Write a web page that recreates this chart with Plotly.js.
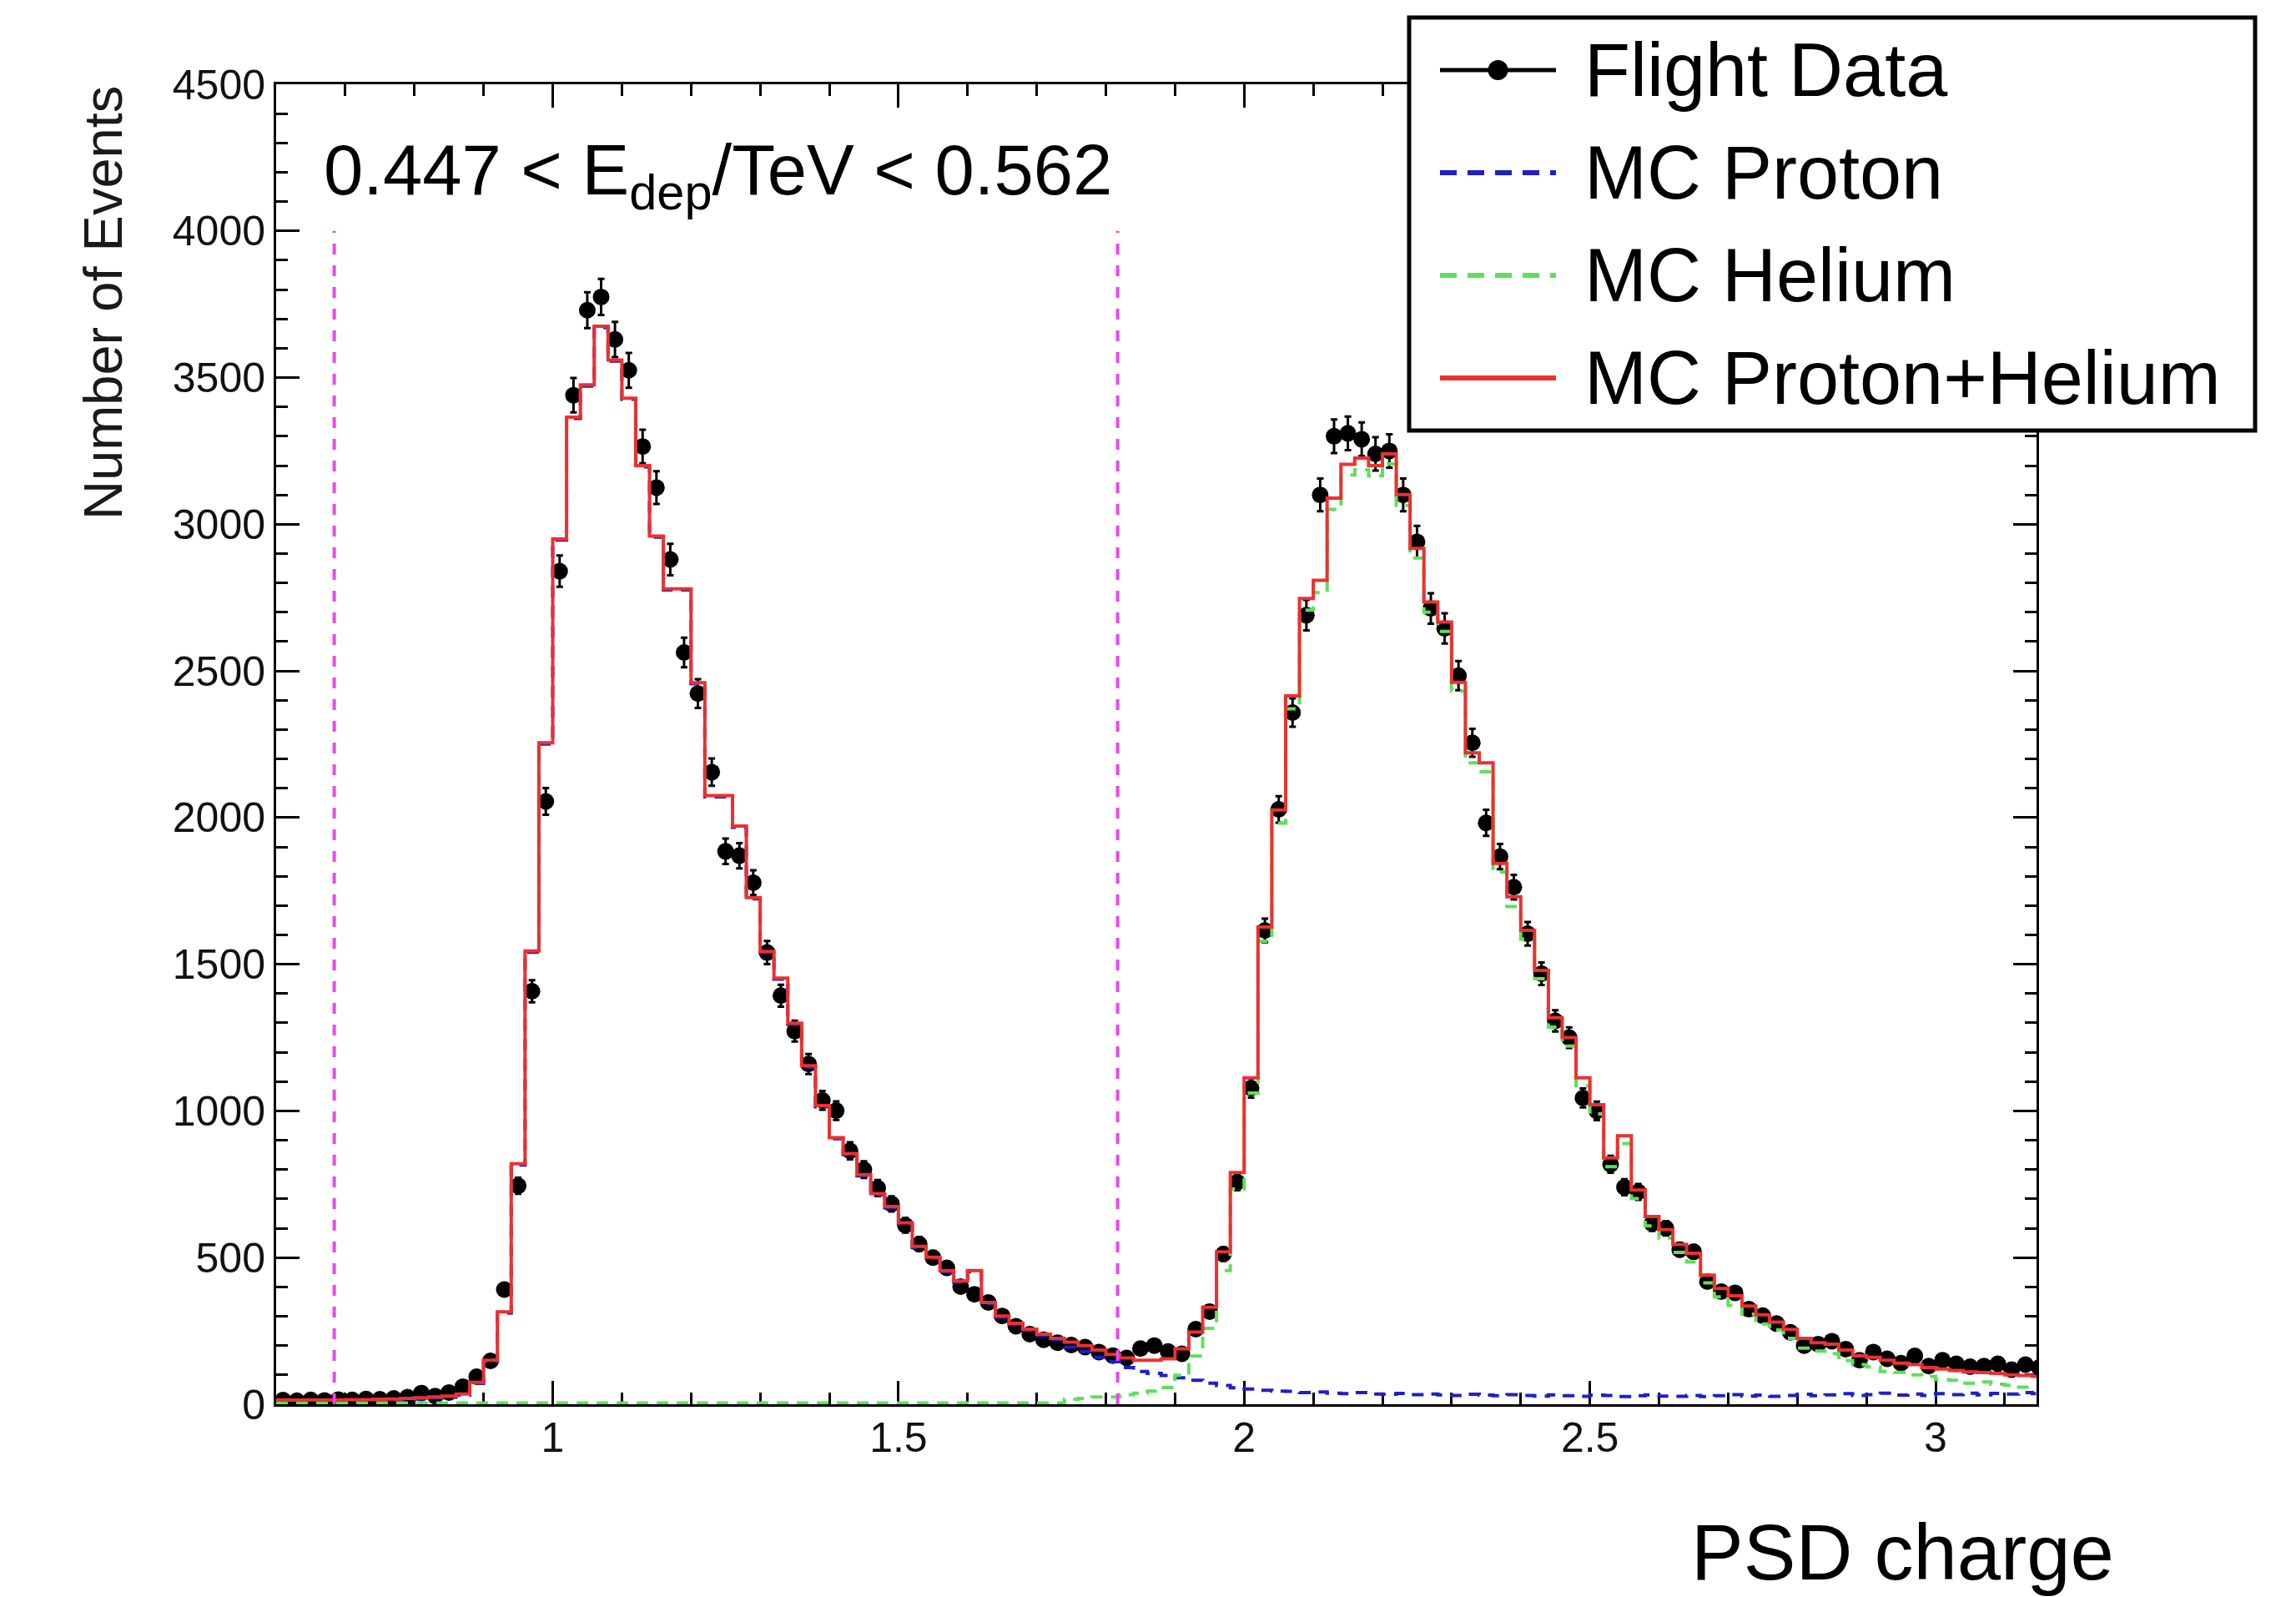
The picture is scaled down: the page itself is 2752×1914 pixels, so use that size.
<!DOCTYPE html>
<html>
<head>
<meta charset="utf-8">
<script src="https://cdn.plot.ly/plotly-3.0.1.min.js"></script>
<style>
html, body { margin: 0; padding: 0; background: #ffffff; }
#chart { width: 2752px; height: 1914px; }
</style>
</head>
<body>
<div id="chart"></div>
<script>
// Histogram binning (PSD charge)
const binLow = 0.60;
const binWidth = 0.02;

// Flight data counts per bin (bin centres 0.61 ... 3.15)
const flightData = [
  14, 12, 15, 13, 16, 15, 18, 17, 20, 24,
  38, 28, 40, 60, 94, 148, 391, 745, 1408, 2055,
  2840, 3440, 3730, 3775, 3630, 3525, 3265, 3125, 2880, 2563,
  2423, 2155, 1885, 1870, 1778, 1540, 1393, 1272, 1160, 1036,
  1001, 864, 800, 737, 683, 610, 546, 500, 465, 401,
  375, 347, 301, 266, 239, 220, 210, 202, 195, 178,
  166, 158, 190, 200, 180, 172, 256, 316, 512, 757,
  1078, 1615, 2028, 2358, 2690, 3100, 3300, 3310, 3290, 3240,
  3250, 3100, 2940, 2713, 2645, 2484, 2255, 1982, 1867, 1763,
  1604, 1468, 1307, 1250, 1044, 1000, 818, 740, 724, 616,
  600, 527, 520, 418, 384, 380, 324, 302, 275, 245,
  200, 205, 215, 188, 150, 178, 155, 140, 165, 130,
  150, 138, 128, 130, 138, 118, 135, 125
];

// MC proton
const mcProton = [
  11, 10, 11, 10, 11, 12, 12, 13, 14, 16,
  18, 21, 24, 31, 71, 146, 311, 816, 1541, 2251,
  2946, 3361, 3471, 3671, 3556, 3426, 3196, 2956, 2776, 2776,
  2456, 2071, 2071, 1967, 1723, 1540, 1449, 1295, 1150, 1014,
  905, 851, 779, 714, 670, 615, 534, 497, 452, 416,
  452, 343, 297, 272, 252, 235, 221, 195, 180, 160,
  145, 125, 112, 105, 98, 90, 82, 72, 64, 56,
  52, 48, 45, 44, 40, 42, 38, 36, 40, 35,
  34, 37, 33, 35, 32, 30, 34, 31, 29, 33,
  30, 28, 32, 29, 27, 31, 30, 26, 29, 32,
  28, 27, 30, 26, 29, 33, 28, 31, 27, 30,
  34, 29, 32, 36, 30, 33, 38, 31, 35, 30,
  36, 33, 38, 32, 37, 35, 40, 36
];

// MC helium
const mcHelium = [
  4, 4, 4, 4, 4, 4, 4, 4, 4, 4,
  4, 4, 4, 4, 4, 4, 4, 4, 4, 4,
  4, 4, 4, 4, 4, 4, 4, 4, 4, 4,
  4, 4, 4, 4, 4, 4, 4, 4, 4, 4,
  4, 4, 4, 4, 4, 4, 4, 4, 4, 4,
  4, 4, 4, 4, 4, 4, 4, 17, 20, 25,
  25, 33, 38, 45, 57, 99, 164, 259, 456, 734,
  1061, 1579, 1981, 2371, 2707, 2767, 3051, 3168, 3186, 3165,
  3206, 3064, 2885, 2700, 2635, 2431, 2187, 2156, 1815, 1697,
  1586, 1451, 1286, 1221, 1086, 990, 810, 889, 701, 608,
  567, 518, 485, 414, 366, 337, 307, 274, 253, 225,
  191, 181, 173, 149, 135, 127, 112, 109, 100, 95,
  84, 82, 72, 76, 68, 65, 58, 59
];

// MC proton + helium
const mcSum = [
  15, 14, 15, 14, 15, 16, 16, 17, 18, 20,
  22, 25, 28, 35, 75, 150, 315, 820, 1545, 2255,
  2950, 3365, 3475, 3675, 3560, 3430, 3200, 2960, 2780, 2780,
  2460, 2075, 2075, 1971, 1727, 1544, 1453, 1299, 1154, 1018,
  909, 855, 783, 718, 674, 619, 538, 501, 456, 420,
  456, 347, 301, 276, 256, 239, 225, 212, 200, 185,
  170, 158, 150, 150, 155, 189, 246, 331, 520, 790,
  1113, 1627, 2026, 2415, 2747, 2809, 3089, 3204, 3226, 3200,
  3240, 3101, 2918, 2735, 2667, 2461, 2221, 2187, 1844, 1730,
  1616, 1479, 1318, 1250, 1113, 1021, 840, 915, 730, 640,
  595, 545, 515, 440, 395, 370, 335, 305, 280, 255,
  225, 210, 205, 185, 165, 160, 150, 140, 135, 125,
  120, 115, 110, 108, 105, 100, 98, 95
];

// Selection cut positions (vertical dashed lines) and their height
const cutLines = [0.684, 1.817];
const cutLineTop = 4000;

// Texts
const seriesNames = ['Flight Data', 'MC Proton', 'MC Helium', 'MC Proton+Helium'];
const energyLabel = '0.447 &lt; E<sub>dep</sub>/TeV &lt; 0.562';
const xTitle = 'PSD charge';
const yTitle = 'Number of Events';

// ---- geometry / styles ----
const W = 2752, H = 1914;
const M = {l: 331, r: 311, t: 101, b: 231};
const plotW = W - M.l - M.r, plotH = H - M.t - M.b;
const px2x = px => (px - M.l) / plotW;
const py2y = py => (H - M.b - py) / plotH;

const FONT = 'Liberation Sans, Arial, Helvetica, sans-serif';
const C_BLUE = '#1f1fc8';
const C_GREEN = '#5ee05a';
const C_RED = '#ec3030';
const C_MAG = '#ec46ec';
const DASH = '14px,10px';
const LEGEND_DASH = '20px,13px';

// ---- build ----
const N = flightData.length;
const centers = flightData.map((_, i) => +(binLow + binWidth * (i + 0.5)).toFixed(3));
const edges = Array.from({length: N + 1}, (_, i) => +(binLow + binWidth * i).toFixed(3));
const stepY = arr => arr.concat([arr[arr.length - 1]]);

const seriesStyles = [
  {color: '#000', width: 5, dash: 'solid', marker: true},
  {color: C_BLUE, width: 6, dash: LEGEND_DASH},
  {color: C_GREEN, width: 6, dash: LEGEND_DASH},
  {color: C_RED, width: 6, dash: 'solid'}
];

const traces = [
  {
    x: centers, y: flightData, type: 'scatter', mode: 'markers',
    name: seriesNames[0], showlegend: false,
    marker: {color: '#000', size: 20, symbol: 'circle'},
    error_y: {type: 'sqrt', visible: true, color: '#000', thickness: 3, width: 4}
  },
  {
    x: edges, y: stepY(mcProton), type: 'scatter', mode: 'lines',
    name: seriesNames[1], showlegend: false,
    line: {shape: 'hv', color: C_BLUE, width: 4, dash: DASH}
  },
  {
    x: edges, y: stepY(mcHelium), type: 'scatter', mode: 'lines',
    name: seriesNames[2], showlegend: false,
    line: {shape: 'hv', color: C_GREEN, width: 4, dash: DASH}
  },
  {
    x: edges, y: stepY(mcSum), type: 'scatter', mode: 'lines',
    name: seriesNames[3], showlegend: false,
    line: {shape: 'hv', color: C_RED, width: 4}
  }
];

const shapes = cutLines.map(v => ({
  type: 'line', xref: 'x', yref: 'y', x0: v, x1: v, y0: 0, y1: cutLineTop,
  line: {color: C_MAG, width: 4, dash: '13px,13px'}, layer: 'above'
}));

// ROOT-style legend box (drawn by hand so its padding matches the original)
const legendBox = {left: 1689, right: 2703, top: 21, bottom: 516};
const legendRows = [84, 207, 330, 453];
const legendLineX = [1726, 1865];
const legendTextX = 1897;
const legendFont = 90;

shapes.push({
  type: 'rect', xref: 'paper', yref: 'paper', layer: 'above',
  x0: px2x(legendBox.left), x1: px2x(legendBox.right),
  y0: py2y(legendBox.bottom), y1: py2y(legendBox.top),
  fillcolor: '#ffffff', line: {color: '#000', width: 5}
});

const annotations = [];
seriesNames.forEach((name, i) => {
  const st = seriesStyles[i];
  const yy = py2y(legendRows[i]);
  shapes.push({
    type: 'line', xref: 'paper', yref: 'paper', layer: 'above',
    x0: px2x(legendLineX[0]), x1: px2x(legendLineX[1]), y0: yy, y1: yy,
    line: {color: st.color, width: st.width, dash: st.dash}
  });
  if (st.marker) {
    shapes.push({
      type: 'circle', xref: 'paper', yref: 'paper', layer: 'above',
      xsizemode: 'pixel', ysizemode: 'pixel',
      xanchor: px2x((legendLineX[0] + legendLineX[1]) / 2), yanchor: yy,
      x0: -12, x1: 12, y0: -12, y1: 12,
      fillcolor: '#000', line: {width: 0}
    });
  }
  annotations.push({
    xref: 'paper', yref: 'paper', x: px2x(legendTextX), y: yy,
    xanchor: 'left', yanchor: 'middle', showarrow: false, text: name,
    font: {family: FONT, size: legendFont, color: '#000'}
  });
});

annotations.push(
  {
    xref: 'paper', yref: 'paper', x: 0.026, y: 0.931, xanchor: 'left', yanchor: 'middle',
    text: energyLabel, showarrow: false,
    font: {family: FONT, size: 85, color: '#000'}
  },
  {
    xref: 'paper', yref: 'paper', x: 1.045, y: -0.112, xanchor: 'right', yanchor: 'middle',
    text: xTitle, showarrow: false,
    font: {family: FONT, size: 94, color: '#000'}
  },
  {
    xref: 'paper', yref: 'paper', x: -0.0986, y: 1.0, xanchor: 'center', yanchor: 'top',
    text: yTitle, showarrow: false, textangle: -90,
    font: {family: FONT, size: 65, color: '#1a1a1a'}
  }
);

const axisCommon = {
  showline: true, linecolor: '#000', linewidth: 3, mirror: 'allticks',
  ticks: 'inside', ticklen: 28, tickwidth: 3, tickcolor: '#000',
  showgrid: false, zeroline: false, layer: 'below traces',
  tickfont: {family: FONT, size: 50, color: '#111'}
};

const layout = {
  width: W, height: H,
  margin: {l: M.l, r: M.r, t: M.t, b: M.b, pad: 0},
  paper_bgcolor: '#ffffff', plot_bgcolor: '#ffffff',
  font: {family: FONT, color: '#000'},
  showlegend: false,
  xaxis: Object.assign({}, axisCommon, {
    range: [0.6, 3.146], tick0: 0, dtick: 0.5, autorange: false,
    ticklabelstandoff: -6,
    minor: {ticks: 'inside', ticklen: 14, tickwidth: 3, tickcolor: '#000', dtick: 0.1, showgrid: false}
  }),
  yaxis: Object.assign({}, axisCommon, {
    range: [0, 4500], tick0: 0, dtick: 500, autorange: false,
    minor: {ticks: 'inside', ticklen: 14, tickwidth: 3, tickcolor: '#000', dtick: 100, showgrid: false}
  }),
  shapes: shapes,
  annotations: annotations
};

Plotly.newPlot('chart', traces, layout, {displayModeBar: false, staticPlot: true});
</script>
</body>
</html>
